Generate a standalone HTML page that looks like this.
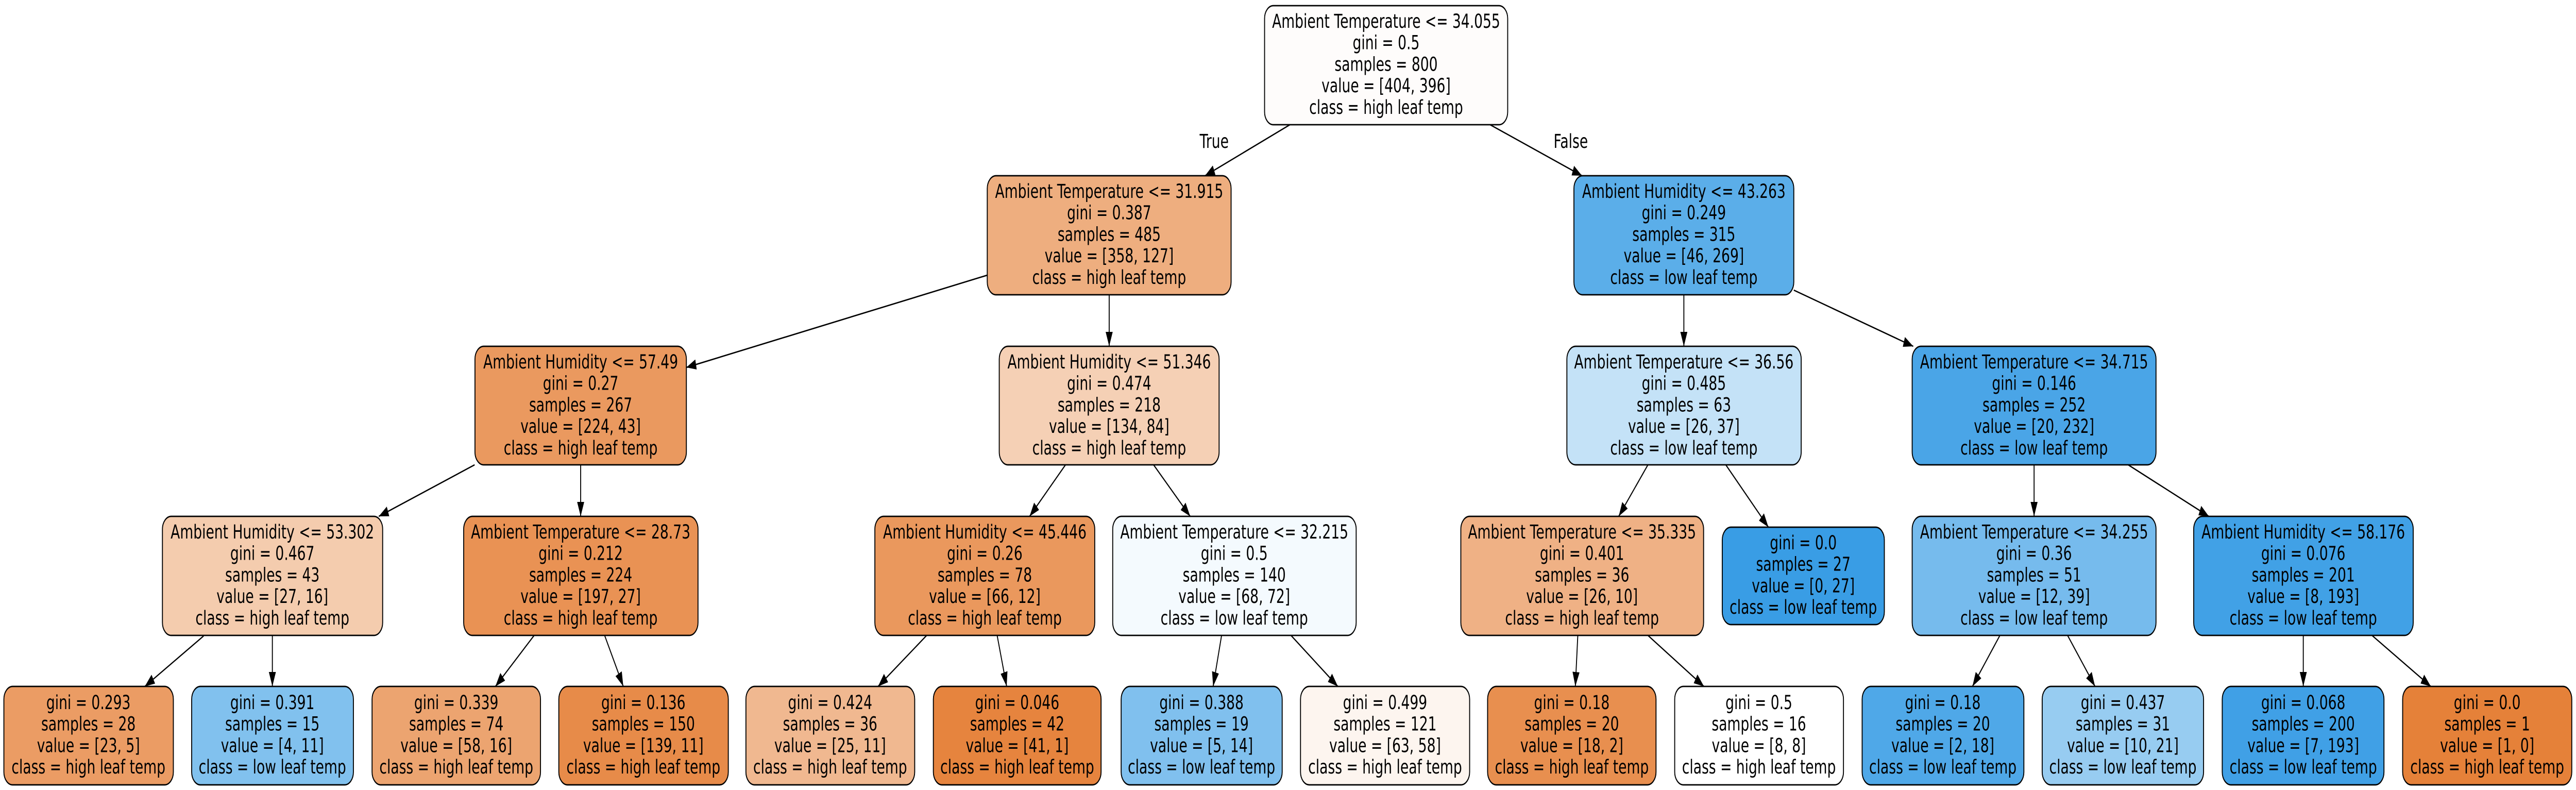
<!DOCTYPE html>
<html><head><meta charset="utf-8"><style>
html,body{margin:0;padding:0;background:#fff;width:100%;height:100%;overflow:hidden;}
svg{display:block;width:100vw;height:100vh}
text{font-family:"DejaVu Sans","Liberation Sans",sans-serif;font-size:37px;text-anchor:middle;fill:#000;transform-box:fill-box;transform-origin:center;transform:scaleX(1.05)}
rect{stroke:#000;stroke-width:2.7}
line{stroke:#000;stroke-width:2.7}
</style></head><body>
<svg viewBox="0 0 7311 1533" preserveAspectRatio="none" xmlns="http://www.w3.org/2000/svg">
<defs><marker id="a" markerUnits="userSpaceOnUse" markerWidth="30" markerHeight="22" refX="28" refY="10" orient="auto"><path d="M0,0 L28,10 L0,20 z" fill="#000"/></marker></defs>
<g marker-end="url(#a)">
<line x1="3661" y1="242" x2="3420" y2="341"/>
<line x1="4229" y1="242" x2="4490" y2="341"/>
<line x1="2802" y1="534" x2="1948" y2="713"/>
<line x1="3148" y1="572" x2="3148" y2="672"/>
<line x1="4779" y1="572" x2="4779" y2="672"/>
<line x1="5091" y1="563" x2="5430" y2="672"/>
<line x1="1347" y1="902" x2="1075" y2="1002"/>
<line x1="1648" y1="902" x2="1648" y2="1002"/>
<line x1="3024" y1="902" x2="2922" y2="1002"/>
<line x1="3274" y1="902" x2="3378" y2="1002"/>
<line x1="4677" y1="902" x2="4594" y2="1002"/>
<line x1="4898" y1="902" x2="5019" y2="1023"/>
<line x1="5773" y1="902" x2="5773" y2="1002"/>
<line x1="6040" y1="902" x2="6269" y2="1002"/>
<line x1="578" y1="1234" x2="411" y2="1332"/>
<line x1="773" y1="1233" x2="773" y2="1332"/>
<line x1="1516" y1="1233" x2="1406" y2="1332"/>
<line x1="1716" y1="1233" x2="1769" y2="1332"/>
<line x1="2630" y1="1233" x2="2492" y2="1332"/>
<line x1="2830" y1="1233" x2="2857" y2="1332"/>
<line x1="3467" y1="1233" x2="3443" y2="1332"/>
<line x1="3664" y1="1233" x2="3797" y2="1332"/>
<line x1="4478" y1="1233" x2="4471" y2="1332"/>
<line x1="4677" y1="1233" x2="4836" y2="1332"/>
<line x1="5676" y1="1233" x2="5598" y2="1332"/>
<line x1="5868" y1="1233" x2="5946" y2="1332"/>
<line x1="6537" y1="1233" x2="6537" y2="1332"/>
<line x1="6732" y1="1233" x2="6899" y2="1332"/>
</g>
<text x="3446" y="287">True</text>
<text x="4458" y="287">False</text>

<rect x="3589" y="11" width="690" height="231" rx="25" fill="#fefcfb"/>
<text x="3934" y="54">Ambient Temperature &lt;= 34.055<tspan x="3934" dy="41.7">gini = 0.5</tspan><tspan x="3934" dy="41.7">samples = 800</tspan><tspan x="3934" dy="41.7">value = [404, 396]</tspan><tspan x="3934" dy="41.7">class = high leaf temp</tspan></text>

<rect x="2802" y="341" width="692" height="231" rx="25" fill="#eeae7f"/>
<text x="3148" y="384">Ambient Temperature &lt;= 31.915<tspan x="3148" dy="41.7">gini = 0.387</tspan><tspan x="3148" dy="41.7">samples = 485</tspan><tspan x="3148" dy="41.7">value = [358, 127]</tspan><tspan x="3148" dy="41.7">class = high leaf temp</tspan></text>

<rect x="4467" y="341" width="624" height="231" rx="25" fill="#5baee9"/>
<text x="4779" y="384">Ambient Humidity &lt;= 43.263<tspan x="4779" dy="41.7">gini = 0.249</tspan><tspan x="4779" dy="41.7">samples = 315</tspan><tspan x="4779" dy="41.7">value = [46, 269]</tspan><tspan x="4779" dy="41.7">class = low leaf temp</tspan></text>

<rect x="1348" y="672" width="600" height="230" rx="25" fill="#ea995f"/>
<text x="1648" y="715">Ambient Humidity &lt;= 57.49<tspan x="1648" dy="41.7">gini = 0.27</tspan><tspan x="1648" dy="41.7">samples = 267</tspan><tspan x="1648" dy="41.7">value = [224, 43]</tspan><tspan x="1648" dy="41.7">class = high leaf temp</tspan></text>

<rect x="2836" y="672" width="624" height="230" rx="25" fill="#f5d0b5"/>
<text x="3148" y="715">Ambient Humidity &lt;= 51.346<tspan x="3148" dy="41.7">gini = 0.474</tspan><tspan x="3148" dy="41.7">samples = 218</tspan><tspan x="3148" dy="41.7">value = [134, 84]</tspan><tspan x="3148" dy="41.7">class = high leaf temp</tspan></text>

<rect x="4447" y="672" width="665" height="230" rx="25" fill="#c4e2f7"/>
<text x="4779" y="715">Ambient Temperature &lt;= 36.56<tspan x="4779" dy="41.7">gini = 0.485</tspan><tspan x="4779" dy="41.7">samples = 63</tspan><tspan x="4779" dy="41.7">value = [26, 37]</tspan><tspan x="4779" dy="41.7">class = low leaf temp</tspan></text>

<rect x="5427" y="672" width="692" height="230" rx="25" fill="#4aa5e7"/>
<text x="5773" y="715">Ambient Temperature &lt;= 34.715<tspan x="5773" dy="41.7">gini = 0.146</tspan><tspan x="5773" dy="41.7">samples = 252</tspan><tspan x="5773" dy="41.7">value = [20, 232]</tspan><tspan x="5773" dy="41.7">class = low leaf temp</tspan></text>

<rect x="461" y="1002" width="625" height="231" rx="25" fill="#f4ccae"/>
<text x="773" y="1045">Ambient Humidity &lt;= 53.302<tspan x="773" dy="41.7">gini = 0.467</tspan><tspan x="773" dy="41.7">samples = 43</tspan><tspan x="773" dy="41.7">value = [27, 16]</tspan><tspan x="773" dy="41.7">class = high leaf temp</tspan></text>

<rect x="1316" y="1002" width="665" height="231" rx="25" fill="#e99254"/>
<text x="1648" y="1045">Ambient Temperature &lt;= 28.73<tspan x="1648" dy="41.7">gini = 0.212</tspan><tspan x="1648" dy="41.7">samples = 224</tspan><tspan x="1648" dy="41.7">value = [197, 27]</tspan><tspan x="1648" dy="41.7">class = high leaf temp</tspan></text>

<rect x="2483" y="1002" width="624" height="231" rx="25" fill="#ea985d"/>
<text x="2795" y="1045">Ambient Humidity &lt;= 45.446<tspan x="2795" dy="41.7">gini = 0.26</tspan><tspan x="2795" dy="41.7">samples = 78</tspan><tspan x="2795" dy="41.7">value = [66, 12]</tspan><tspan x="2795" dy="41.7">class = high leaf temp</tspan></text>

<rect x="3158" y="1002" width="691" height="231" rx="25" fill="#f4fafe"/>
<text x="3503" y="1045">Ambient Temperature &lt;= 32.215<tspan x="3503" dy="41.7">gini = 0.5</tspan><tspan x="3503" dy="41.7">samples = 140</tspan><tspan x="3503" dy="41.7">value = [68, 72]</tspan><tspan x="3503" dy="41.7">class = low leaf temp</tspan></text>

<rect x="4146" y="1002" width="689" height="231" rx="25" fill="#efb185"/>
<text x="4490" y="1045">Ambient Temperature &lt;= 35.335<tspan x="4490" dy="41.7">gini = 0.401</tspan><tspan x="4490" dy="41.7">samples = 36</tspan><tspan x="4490" dy="41.7">value = [26, 10]</tspan><tspan x="4490" dy="41.7">class = high leaf temp</tspan></text>

<rect x="4888" y="1023" width="460" height="189" rx="25" fill="#399de5"/>
<text x="5118" y="1066">gini = 0.0<tspan x="5118" dy="41.7">samples = 27</tspan><tspan x="5118" dy="41.7">value = [0, 27]</tspan><tspan x="5118" dy="41.7">class = low leaf temp</tspan></text>

<rect x="5427" y="1002" width="692" height="231" rx="25" fill="#76bbed"/>
<text x="5773" y="1045">Ambient Temperature &lt;= 34.255<tspan x="5773" dy="41.7">gini = 0.36</tspan><tspan x="5773" dy="41.7">samples = 51</tspan><tspan x="5773" dy="41.7">value = [12, 39]</tspan><tspan x="5773" dy="41.7">class = low leaf temp</tspan></text>

<rect x="6226" y="1002" width="623" height="231" rx="25" fill="#41a1e6"/>
<text x="6537" y="1045">Ambient Humidity &lt;= 58.176<tspan x="6537" dy="41.7">gini = 0.076</tspan><tspan x="6537" dy="41.7">samples = 201</tspan><tspan x="6537" dy="41.7">value = [8, 193]</tspan><tspan x="6537" dy="41.7">class = low leaf temp</tspan></text>

<rect x="11" y="1332" width="481" height="191" rx="25" fill="#eb9c64"/>
<text x="251" y="1376">gini = 0.293<tspan x="251" dy="41.7">samples = 28</tspan><tspan x="251" dy="41.7">value = [23, 5]</tspan><tspan x="251" dy="41.7">class = high leaf temp</tspan></text>

<rect x="544" y="1332" width="459" height="191" rx="25" fill="#81c1ee"/>
<text x="773" y="1376">gini = 0.391<tspan x="773" dy="41.7">samples = 15</tspan><tspan x="773" dy="41.7">value = [4, 11]</tspan><tspan x="773" dy="41.7">class = low leaf temp</tspan></text>

<rect x="1056" y="1332" width="478" height="191" rx="25" fill="#eca470"/>
<text x="1295" y="1376">gini = 0.339<tspan x="1295" dy="41.7">samples = 74</tspan><tspan x="1295" dy="41.7">value = [58, 16]</tspan><tspan x="1295" dy="41.7">class = high leaf temp</tspan></text>

<rect x="1586" y="1332" width="481" height="191" rx="25" fill="#e78b49"/>
<text x="1826" y="1376">gini = 0.136<tspan x="1826" dy="41.7">samples = 150</tspan><tspan x="1826" dy="41.7">value = [139, 11]</tspan><tspan x="1826" dy="41.7">class = high leaf temp</tspan></text>

<rect x="2117" y="1332" width="479" height="191" rx="25" fill="#f0b890"/>
<text x="2356" y="1376">gini = 0.424<tspan x="2356" dy="41.7">samples = 36</tspan><tspan x="2356" dy="41.7">value = [25, 11]</tspan><tspan x="2356" dy="41.7">class = high leaf temp</tspan></text>

<rect x="2649" y="1332" width="476" height="191" rx="25" fill="#e6843e"/>
<text x="2887" y="1376">gini = 0.046<tspan x="2887" dy="41.7">samples = 42</tspan><tspan x="2887" dy="41.7">value = [41, 1]</tspan><tspan x="2887" dy="41.7">class = high leaf temp</tspan></text>

<rect x="3182" y="1332" width="457" height="191" rx="25" fill="#80c0ee"/>
<text x="3410" y="1376">gini = 0.388<tspan x="3410" dy="41.7">samples = 19</tspan><tspan x="3410" dy="41.7">value = [5, 14]</tspan><tspan x="3410" dy="41.7">class = low leaf temp</tspan></text>

<rect x="3691" y="1332" width="480" height="191" rx="25" fill="#fdf5ef"/>
<text x="3931" y="1376">gini = 0.499<tspan x="3931" dy="41.7">samples = 121</tspan><tspan x="3931" dy="41.7">value = [63, 58]</tspan><tspan x="3931" dy="41.7">class = high leaf temp</tspan></text>

<rect x="4222" y="1332" width="478" height="191" rx="25" fill="#e88f4f"/>
<text x="4461" y="1376">gini = 0.18<tspan x="4461" dy="41.7">samples = 20</tspan><tspan x="4461" dy="41.7">value = [18, 2]</tspan><tspan x="4461" dy="41.7">class = high leaf temp</tspan></text>

<rect x="4753" y="1332" width="479" height="191" rx="25" fill="#ffffff"/>
<text x="4992" y="1376">gini = 0.5<tspan x="4992" dy="41.7">samples = 16</tspan><tspan x="4992" dy="41.7">value = [8, 8]</tspan><tspan x="4992" dy="41.7">class = high leaf temp</tspan></text>

<rect x="5285" y="1332" width="459" height="191" rx="25" fill="#4fa8e8"/>
<text x="5514" y="1376">gini = 0.18<tspan x="5514" dy="41.7">samples = 20</tspan><tspan x="5514" dy="41.7">value = [2, 18]</tspan><tspan x="5514" dy="41.7">class = low leaf temp</tspan></text>

<rect x="5796" y="1332" width="458" height="191" rx="25" fill="#97ccf1"/>
<text x="6025" y="1376">gini = 0.437<tspan x="6025" dy="41.7">samples = 31</tspan><tspan x="6025" dy="41.7">value = [10, 21]</tspan><tspan x="6025" dy="41.7">class = low leaf temp</tspan></text>

<rect x="6307" y="1332" width="459" height="191" rx="25" fill="#40a0e6"/>
<text x="6537" y="1376">gini = 0.068<tspan x="6537" dy="41.7">samples = 200</tspan><tspan x="6537" dy="41.7">value = [7, 193]</tspan><tspan x="6537" dy="41.7">class = low leaf temp</tspan></text>

<rect x="6819" y="1332" width="480" height="191" rx="25" fill="#e58139"/>
<text x="7059" y="1376">gini = 0.0<tspan x="7059" dy="41.7">samples = 1</tspan><tspan x="7059" dy="41.7">value = [1, 0]</tspan><tspan x="7059" dy="41.7">class = high leaf temp</tspan></text>
</svg>
</body></html>
